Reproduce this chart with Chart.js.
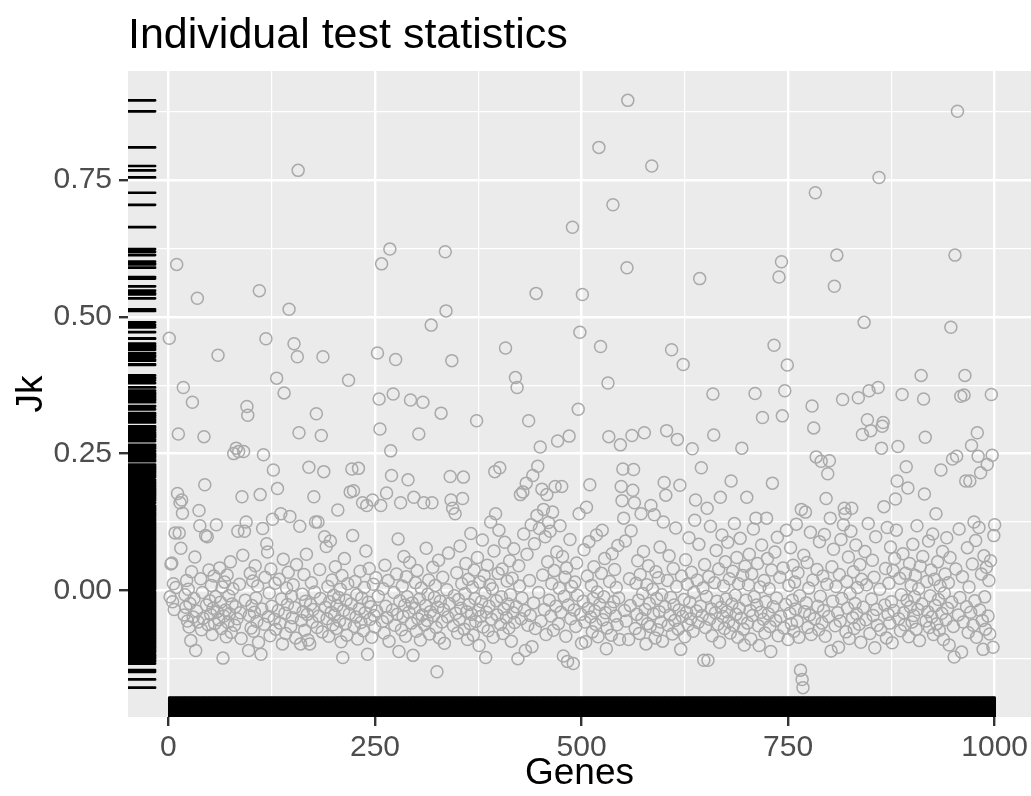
<!DOCTYPE html>
<html lang="en">

<head>
    <meta charset="UTF-8">
    <title>Individual test statistics</title>
    <script src="https://cdn.jsdelivr.net/npm/chart.js"></script>
    <style>
        * {
            margin: 0;
            padding: 0;
            box-sizing: border-box;
        }

        body {
            background: #ffffff;
            width: 1031px;
            height: 796px;
            overflow: hidden;
        }

        #chart {
            display: block;
        }
    </style>
</head>

<body>
    <canvas id="chart" width="1031" height="796"></canvas>

    <script>
        // Jk statistic for genes 1..1000, ten genes per line
        const jk = [
            0.461, -0.012, 0.048, 0.050, -0.021, 0.012, -0.035, 0.105, 0.005, 0.596,
            0.177, 0.286, 0.105, 0.160, 0.077, 0.165, 0.141, 0.371, -0.045, -0.008,
            -0.031, 0.018, -0.056, 0.002, -0.067, -0.024, -0.092, 0.034, 0.344, -0.049,
            -0.015, 0.061, -0.110, -0.038, 0.534, -0.058, 0.146, 0.118, 0.021, -0.072,
            -0.004, -0.051, 0.281, 0.193, 0.100, -0.027, 0.098, -0.063, 0.037, -0.019,
            -0.044, 0.009, -0.081, -0.033, 0.026, -0.061, -0.012, 0.120, -0.039, 0.430,
            -0.054, 0.041, -0.022, -0.070, 0.006, -0.124, -0.047, 0.015, -0.036, -0.085,
            0.028, -0.059, -0.010, -0.043, 0.052, -0.077, -0.025, 0.003, 0.250, -0.064,
            -0.030, 0.260, -0.052, 0.108, 0.254, 0.011, -0.041, -0.088, 0.171, 0.064,
            0.254, 0.108, -0.018, 0.125, 0.336, 0.320, -0.110, -0.046, 0.031, -0.069,
            // 101
            -0.028, 0.017, -0.075, -0.040, 0.045, -0.014, -0.057, 0.008, -0.095, 0.548,
            0.175, -0.117, -0.034, 0.113, 0.248, -0.062, 0.024, 0.460, 0.085, 0.070,
            -0.048, -0.005, -0.083, 0.039, -0.029, 0.130, 0.220, -0.053, 0.013, -0.071,
            0.388, 0.186, -0.037, 0.020, -0.060, 0.140, -0.016, -0.098, 0.057, 0.361,
            -0.042, -0.079, 0.004, -0.026, 0.033, 0.514, 0.135, -0.066, -0.011, -0.050,
            0.010, 0.451, -0.032, -0.087, 0.047, 0.427, 0.768, 0.288, 0.117, -0.098,
            -0.055, -0.007, -0.039, 0.029, -0.073, -0.020, 0.066, -0.044, -0.091, 0.225,
            -0.098, -0.026, 0.014, -0.058, -0.035, 0.171, -0.003, 0.125, 0.323, -0.068,
            0.125, -0.047, 0.038, -0.015, 0.283, -0.076, 0.427, 0.217, 0.098, -0.031,
            0.080, -0.052, 0.007, -0.084, -0.021, 0.090, -0.040, 0.019, -0.063, -0.009,
            // 201
            -0.045, 0.043, -0.070, -0.028, 0.147, -0.013, -0.056, 0.002, -0.094, 0.027,
            -0.123, -0.037, 0.058, -0.061, -0.018, -0.082, 0.012, 0.384, -0.043, 0.180,
            -0.025, 0.222, 0.100, 0.182, -0.066, 0.016, -0.049, -0.008, -0.089, 0.223,
            -0.034, 0.035, -0.059, -0.014, 0.160, -0.074, 0.005, -0.041, 0.072, 0.155,
            -0.117, -0.022, 0.040, -0.053, -0.030, -0.086, 0.165, 0.011, -0.046, -0.067,
            0.023, -0.038, 0.434, -0.011, 0.350, 0.295, 0.155, 0.597, -0.057, 0.003,
            -0.078, 0.046, -0.029, 0.178, -0.050, 0.018, -0.093, 0.624, 0.255, 0.210,
            -0.036, 0.359, -0.004, -0.064, 0.422, 0.030, -0.044, 0.094, -0.112, -0.019,
            0.160, -0.072, 0.008, -0.048, 0.062, -0.027, -0.084, 0.025, -0.012, 0.202,
            -0.040, 0.051, 0.348, -0.060, -0.023, -0.119, 0.170, -0.033, 0.014, -0.075,
            // 301
            0.036, -0.052, 0.286, -0.016, -0.091, 0.004, -0.045, 0.344, 0.160, -0.063,
            -0.028, 0.077, -0.055, -0.007, 0.019, -0.080, -0.039, 0.485, 0.160, 0.042,
            -0.046, -0.013, 0.009, -0.068, -0.149, -0.031, 0.055, -0.087, -0.020, 0.324,
            -0.058, 0.024, -0.035, -0.097, 0.619, 0.511, 0.001, -0.049, 0.068, -0.024,
            0.208, 0.165, 0.420, 0.150, -0.065, -0.010, 0.140, -0.042, 0.032, -0.078,
            -0.017, -0.054, 0.081, -0.033, 0.012, 0.168, 0.207, -0.071, -0.006, 0.049,
            -0.039, -0.090, 0.020, -0.026, -0.061, 0.104, -0.044, 0.006, -0.082, 0.037,
            -0.015, -0.057, 0.310, 0.060, -0.036, -0.101, 0.015, -0.048, -0.021, 0.092,
            -0.067, 0.027, -0.005, -0.123, -0.040, 0.046, -0.074, -0.029, 0.010, 0.125,
            -0.053, 0.003, -0.086, 0.072, 0.217, 0.140, -0.019, -0.045, 0.031, 0.110,
            // 401
            0.224, -0.062, -0.012, 0.039, -0.079, -0.034, 0.088, 0.443, -0.050, 0.017,
            -0.025, -0.069, 0.054, -0.008, -0.093, 0.022, -0.041, 0.076, -0.059, 0.389,
            -0.030, 0.371, -0.125, 0.045, 0.008, 0.175, -0.052, -0.014, 0.180, 0.103,
            -0.037, -0.110, 0.196, 0.066, -0.064, 0.310, 0.018, -0.046, 0.120, -0.103,
            0.210, -0.023, 0.085, -0.070, 0.543, 0.137, 0.227, -0.004, 0.113, 0.262,
            -0.056, 0.185, 0.028, 0.148, -0.035, 0.098, -0.081, 0.175, 0.052, 0.124,
            -0.018, 0.108, -0.047, 0.012, 0.143, -0.073, 0.036, 0.190, -0.029, 0.070,
            0.273, -0.061, 0.004, 0.118, -0.040, 0.190, 0.062, -0.120, -0.011, 0.024,
            -0.084, 0.041, -0.130, -0.027, 0.282, 0.093, -0.052, 0.007, 0.664, -0.134,
            -0.036, 0.015, -0.066, 0.050, -0.009, 0.331, 0.140, 0.472, -0.044, -0.097,
            // 501
            0.541, -0.020, 0.074, -0.058, -0.094, 0.152, 0.026, -0.033, 0.089, 0.193,
            -0.049, 0.009, -0.076, -0.015, 0.043, -0.038, -0.062, 0.101, -0.003, -0.085,
            0.810, -0.026, 0.446, 0.031, 0.110, -0.054, -0.012, 0.058, -0.041, -0.107,
            -0.069, 0.379, 0.281, 0.016, -0.032, -0.082, 0.067, 0.705, -0.021, 0.038,
            -0.047, 0.005, -0.063, 0.082, -0.014, -0.090, 0.266, 0.190, 0.164, 0.222,
            0.132, -0.037, 0.090, -0.056, 0.590, 0.896, -0.090, 0.021, -0.028, 0.109,
            0.283, 0.183, 0.221, 0.160, -0.070, 0.013, -0.044, 0.054, -0.018, -0.079,
            0.029, 0.140, -0.052, -0.006, 0.071, 0.288, -0.035, -0.098, 0.010, -0.061,
            0.045, -0.024, -0.066, 0.155, 0.776, 0.002, -0.043, 0.138, -0.087, 0.034,
            -0.015, -0.072, 0.023, -0.039, 0.079, -0.058, -0.008, -0.093, 0.125, 0.197,
            // 601
            -0.030, 0.174, 0.292, 0.018, -0.064, 0.063, -0.045, -0.013, 0.440, -0.080,
            0.040, -0.027, -0.055, 0.114, 0.007, 0.276, -0.071, -0.036, 0.192, -0.108,
            0.026, -0.048, 0.413, -0.017, -0.085, 0.056, -0.040, 0.011, -0.063, 0.096,
            -0.022, -0.052, 0.033, 0.259, -0.075, -0.004, 0.128, 0.165, -0.038, 0.019,
            -0.059, 0.084, 0.570, -0.029, 0.224, -0.046, 0.004, -0.128, 0.047, -0.068,
            -0.011, 0.150, -0.128, 0.025, -0.053, 0.117, -0.034, -0.083, 0.359, 0.284,
            0.014, -0.041, 0.073, -0.020, -0.062, 0.039, -0.095, 0.170, -0.031, 0.101,
            -0.048, 0.008, -0.070, 0.052, -0.016, -0.039, 0.088, -0.057, 0.021, -0.078,
            0.200, -0.025, 0.035, -0.064, 0.122, -0.009, -0.044, 0.060, -0.086, 0.012,
            -0.033, 0.095, -0.051, 0.260, 0.027, -0.071, -0.100, 0.044, -0.018, 0.170,
            // 701
            -0.060, 0.010, 0.066, -0.037, -0.089, 0.030, -0.046, 0.112, -0.012, 0.360,
            0.132, -0.027, 0.049, -0.065, -0.101, 0.006, -0.040, 0.083, 0.316, -0.053,
            0.018, -0.078, -0.021, 0.132, 0.058, -0.043, 0.003, -0.066, -0.112, 0.037,
            0.196, -0.030, 0.448, 0.070, -0.055, -0.014, 0.097, -0.083, 0.573, 0.024,
            -0.048, 0.601, 0.319, 0.041, -0.069, 0.365, -0.026, 0.110, 0.412, -0.090,
            0.009, -0.042, 0.078, -0.061, -0.018, 0.046, -0.075, 0.015, -0.034, 0.121,
            -0.057, 0.032, -0.086, -0.010, -0.146, 0.148, -0.163, -0.178, 0.064, -0.039,
            0.143, -0.023, 0.051, -0.068, 0.004, -0.045, 0.106, -0.081, 0.337, 0.019,
            0.297, -0.052, 0.727, 0.244, 0.038, -0.029, -0.072, 0.089, -0.011, 0.236,
            -0.060, 0.026, -0.037, 0.102, -0.084, 0.168, 0.011, 0.213, -0.048, 0.237,
            // 801
            0.132, -0.111, 0.043, -0.020, 0.075, 0.556, -0.065, 0.007, 0.613, -0.041,
            -0.104, 0.029, -0.056, 0.093, -0.015, 0.349, 0.120, 0.150, 0.140, -0.076,
            0.016, -0.033, 0.061, -0.088, -0.006, 0.108, 0.150, -0.050, 0.034, -0.070,
            -0.024, 0.083, -0.043, 0.005, 0.352, -0.062, 0.047, -0.095, 0.020, 0.285,
            -0.031, 0.490, 0.071, -0.054, 0.010, 0.312, 0.122, 0.365, -0.079, 0.292,
            -0.016, 0.055, -0.046, 0.024, -0.105, 0.098, -0.035, -0.064, 0.371, 0.755,
            0.002, -0.072, 0.260, 0.300, 0.307, 0.153, -0.027, 0.040, -0.087, 0.115,
            -0.044, 0.013, -0.060, 0.079, -0.021, -0.096, 0.036, -0.037, 0.058, 0.167,
            0.110, 0.200, 0.263, -0.052, 0.022, -0.074, -0.008, 0.358, 0.067, -0.041,
            -0.063, 0.031, 0.226, -0.018, 0.187, -0.085, 0.049, -0.030, 0.009, -0.058,
            // 901
            0.084, -0.046, -0.012, 0.027, -0.071, 0.118, -0.035, 0.003, -0.092, 0.044,
            0.393, -0.025, 0.062, 0.350, 0.176, 0.280, -0.056, 0.016, -0.039, 0.090,
            -0.068, -0.010, 0.037, -0.049, 0.103, -0.081, 0.020, -0.028, 0.140, -0.061,
            0.052, -0.017, -0.073, 0.008, 0.220, -0.042, 0.071, -0.090, -0.005, 0.030,
            -0.054, 0.096, -0.033, 0.014, -0.100, 0.060, 0.481, -0.022, 0.240, -0.066,
            -0.122, 0.613, 0.039, 0.245, 0.876, -0.045, 0.112, -0.013, 0.355, -0.113,
            0.025, -0.058, 0.357, 0.393, 0.200, -0.030, 0.078, -0.077, 0.006, 0.200,
            -0.040, 0.265, 0.048, -0.064, 0.125, -0.019, 0.091, -0.086, 0.288, 0.245,
            0.115, -0.036, 0.215, 0.030, -0.055, -0.108, 0.063, -0.012, -0.071, 0.042,
            0.230, -0.047, 0.018, -0.080, 0.054, 0.358, 0.247, -0.104, 0.100, 0.120
        ];

        // gene number of each value (1-based position)
        const geneIds = jk.map((_, i) => i + 1);

        // axis breaks and labels
        const xTicks = [0, 250, 500, 750, 1000];
        const xTickLabels = ['0', '250', '500', '750', '1000'];
        const xMinor = [125, 375, 625, 875];
        const yTicks = [0, 0.25, 0.5, 0.75];
        const yTickLabels = ['0.00', '0.25', '0.50', '0.75'];
        const yMinor = [-0.125, 0.125, 0.375, 0.625, 0.875];

        const FONT = '"Liberation Sans", Arial, Helvetica, sans-serif';

        // ggplot style 5% expansion of the y range
        const lo = Math.min(...jk), hi = Math.max(...jk);
        const yMin = lo - 0.05 * (hi - lo);
        const yMax = hi + 0.05 * (hi - lo);
        const xMin = 1 - 0.05 * 999;

        const near = (a, b) => Math.abs(a - b) < 1e-9;
        const isMinor = (list, v) => list.some(m => near(m, v));
        const labelFor = (ticks, labels, v) => {
            const i = ticks.findIndex(t => near(t, v));
            return i < 0 ? '' : labels[i];
        };

        // grey panel behind everything
        const panelBg = {
            id: 'panelBg',
            beforeDraw(chart) {
                const { ctx, chartArea: a } = chart;
                ctx.save();
                ctx.fillStyle = '#ffffff';
                ctx.fillRect(0, 0, chart.width, chart.height);
                ctx.fillStyle = '#EBEBEB';
                ctx.fillRect(a.left, a.top, a.right - a.left, a.bottom - a.top);
                ctx.restore();
            }
        };

        // rug marks along the bottom and left edge of the panel
        const rug = {
            id: 'rug',
            afterDatasetsDraw(chart) {
                const { ctx, chartArea: a, scales } = chart;
                const lenX = 0.03 * (a.bottom - a.top);
                const lenY = 0.03 * (a.right - a.left);
                ctx.save();
                ctx.beginPath();
                ctx.rect(a.left, a.top, a.right - a.left, a.bottom - a.top);
                ctx.clip();
                ctx.strokeStyle = '#000000';
                ctx.lineWidth = 2.7;
                ctx.lineCap = 'round';
                ctx.beginPath();
                geneIds.forEach(g => {
                    const px = scales.x.getPixelForValue(g);
                    ctx.moveTo(px, a.bottom);
                    ctx.lineTo(px, a.bottom - lenX);
                });
                jk.forEach(v => {
                    const py = scales.y.getPixelForValue(v);
                    ctx.moveTo(a.left, py);
                    ctx.lineTo(a.left + lenY, py);
                });
                ctx.stroke();
                ctx.restore();
            }
        };

        const gridFor = minorList => ({
            color: '#ffffff',
            lineWidth: c => (c.tick && isMinor(minorList, c.tick.value)) ? 1.2 : 2.4,
            drawTicks: true,
            tickLength: 9,
            tickWidth: 2.4,
            tickColor: c => (c.tick && isMinor(minorList, c.tick.value)) ? 'rgba(0,0,0,0)' : '#333333'
        });

        new Chart(document.getElementById('chart'), {
            type: 'scatter',
            data: {
                datasets: [{
                    data: geneIds.map((g, i) => ({ x: g, y: jk[i] })),
                    pointStyle: 'circle',
                    pointRadius: 6,
                    pointHoverRadius: 6,
                    borderWidth: 1.5,
                    borderColor: '#A9A9A9',
                    backgroundColor: 'rgba(0,0,0,0)'
                }]
            },
            options: {
                responsive: false,
                animation: false,
                devicePixelRatio: 1,
                events: [],
                layout: { padding: 0, autoPadding: false },
                plugins: {
                    legend: { display: false },
                    tooltip: { enabled: false },
                    title: {
                        display: true,
                        text: 'Individual test statistics',
                        align: 'start',
                        fullSize: false,
                        color: '#000000',
                        font: { family: FONT, size: 43, weight: 'normal' },
                        padding: { top: 10, bottom: 9.4 }
                    }
                },
                scales: {
                    x: {
                        type: 'linear',
                        min: xMin,
                        max: 1044, // the reference panel is cut off at the right edge
                        afterBuildTicks: s => {
                            s.ticks = [...xTicks, ...xMinor].sort((a, b) => a - b).map(v => ({ value: v }));
                        },
                        afterFit: s => {
                            s.height = 79;
                            s.paddingLeft = 0;
                            s.paddingRight = 0;
                        },
                        border: { display: false },
                        grid: gridFor(xMinor),
                        ticks: {
                            autoSkip: false,
                            maxRotation: 0,
                            padding: 4,
                            color: '#4D4D4D',
                            font: { family: FONT, size: 30 },
                            callback: v => labelFor(xTicks, xTickLabels, v)
                        },
                        title: {
                            display: true,
                            text: 'Genes',
                            color: '#000000',
                            font: { family: FONT, size: 37 },
                            padding: { top: 0, bottom: 0 }
                        }
                    },
                    y: {
                        type: 'linear',
                        min: yMin,
                        max: yMax,
                        afterBuildTicks: s => {
                            s.ticks = [...yTicks, ...yMinor].sort((a, b) => a - b).map(v => ({ value: v }));
                        },
                        afterFit: s => {
                            s.width = 128;
                            s.paddingTop = 0;
                            s.paddingBottom = 0;
                        },
                        border: { display: false },
                        grid: gridFor(yMinor),
                        ticks: {
                            autoSkip: false,
                            padding: 7,
                            color: '#4D4D4D',
                            font: { family: FONT, size: 30 },
                            callback: v => labelFor(yTicks, yTickLabels, v)
                        },
                        title: {
                            display: true,
                            text: 'Jk',
                            color: '#000000',
                            font: { family: FONT, size: 37 },
                            padding: { top: 10, bottom: 0 }
                        }
                    }
                }
            },
            plugins: [panelBg, rug]
        });
    </script>
</body>

</html>
